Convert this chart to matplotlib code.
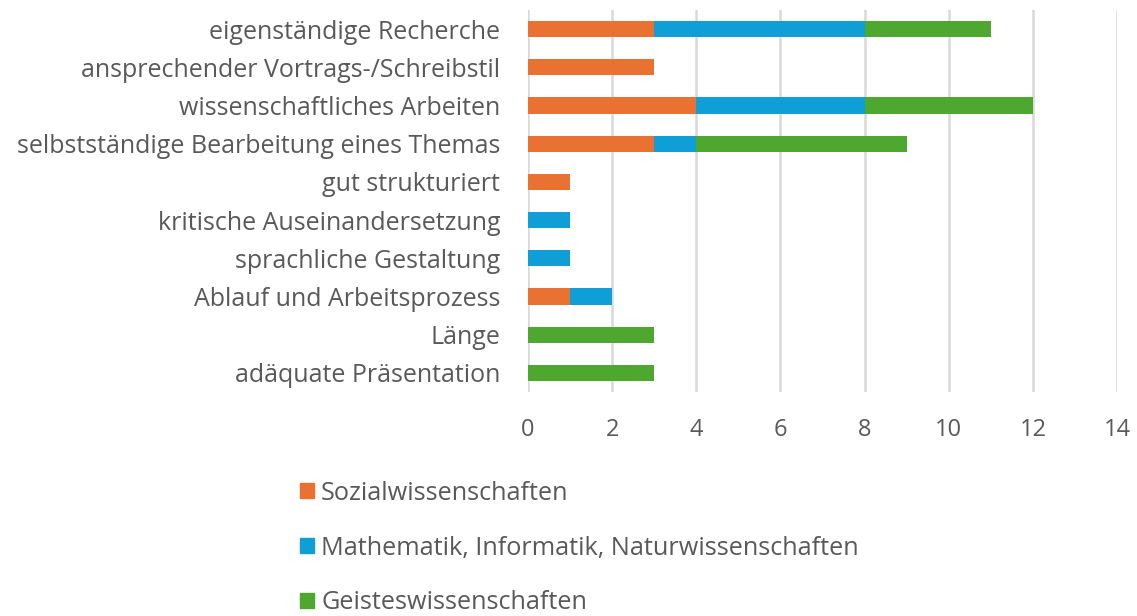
import matplotlib
matplotlib.use("Agg")
import matplotlib.pyplot as plt
from matplotlib.patches import Patch
import numpy as np

plt.rcParams.update({"font.family": ["Open Sans", "DejaVu Sans"]})

categories = [
    "eigenständige Recherche",
    "ansprechender Vortrags-/Schreibstil",
    "wissenschaftliches Arbeiten",
    "selbstständige Bearbeitung eines Themas",
    "gut strukturiert",
    "kritische Auseinandersetzung",
    "sprachliche Gestaltung",
    "Ablauf und Arbeitsprozess",
    "Länge",
    "adäquate Präsentation",
]
sozial = [3, 3, 4, 3, 1, 0, 0, 1, 0, 0]
mathe = [5, 0, 4, 1, 0, 1, 1, 1, 0, 0]
geistes = [3, 0, 4, 5, 0, 0, 0, 0, 3, 3]
series_names = ["Sozialwissenschaften",
                "Mathematik, Informatik, Naturwissenschaften",
                "Geisteswissenschaften"]
colors = ["#E97132", "#0F9ED5", "#4EA72E"]
xticks = [0, 2, 4, 6, 8, 10, 12, 14]

fig = plt.figure(figsize=(11.37, 6.16), dpi=100)
ax = fig.add_axes([0.4644, 0.3636, 0.5180, 0.6202])

y = np.arange(len(categories))
left = np.zeros(len(categories))
for vals, col in zip([sozial, mathe, geistes], colors):
    vals = np.array(vals, dtype=float)
    ax.barh(y, vals, left=left, height=0.42, color=col, zorder=3)
    left += vals

ax.set_ylim(len(categories) - 0.5, -0.5)
ax.set_xlim(0, 14)
ax.set_yticks(y)
ax.set_yticklabels(categories, fontsize=18, color="#595959")
ax.set_xticks(xticks)
ax.set_xticklabels([str(t) for t in xticks], fontsize=17, color="#595959")
ax.tick_params(axis="both", length=0)
ax.tick_params(axis="x", pad=19)
ax.tick_params(axis="y", pad=20)
ax.grid(axis="x", color="#D9D9D9", lw=1.8, zorder=0)
for sp in ax.spines.values():
    sp.set_visible(False)

# legend stacked under the plot, one entry per row
handles = [Patch(color=c) for c in colors]
fig.legend(handles, series_names, loc="upper left",
           bbox_to_anchor=(277 / 1137, 1 - 458 / 616),
           frameon=False, fontsize=18.2, labelcolor="#595959",
           handlelength=0.55, handleheight=0.55, handletextpad=0.3,
           labelspacing=1.18)

fig.savefig("out.png", dpi=100)
